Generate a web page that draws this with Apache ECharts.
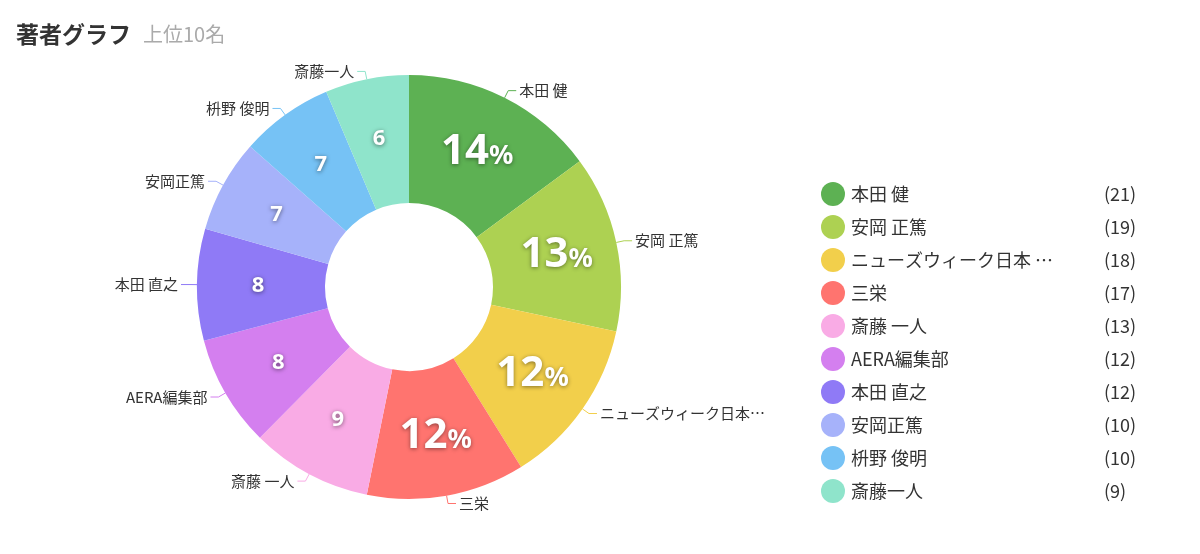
<!DOCTYPE html>
<html>
<head>
<meta charset="utf-8">
<script src="https://cdn.jsdelivr.net/npm/echarts@6/dist/echarts.min.js"></script>
<style>
  html, body { margin: 0; padding: 0; background: #fff; }
  #main { width: 1200px; height: 554px; }
</style>
</head>
<body>
<div id="main"></div>
<script>
// 著者名と件数（上位10名）
var authors = ['本田 健', '安岡 正篤', 'ニューズウィーク日本版', '三栄', '斎藤 一人', 'AERA編集部', '本田 直之', '安岡正篤', '枡野 俊明', '斎藤一人'];
var counts = [21, 19, 18, 17, 13, 12, 12, 10, 10, 9];
var colors = ['#5db153', '#add152', '#f2cf4b', '#ff746f', '#f9abe5', '#d47fef', '#8f7af6', '#a6b2fa', '#76c2f5', '#8fe4cb'];

var FONT = '"Noto Sans CJK JP", "Noto Sans", sans-serif';

var Chart = Chart || {};

Chart.pieData = function() {
	var list = [];
	for (var i = 0; i < authors.length; i++) {
		list.push({ name: authors[i], value: counts[i] });
	}
	return list;
};

Chart.countOf = function(name) {
	var i = authors.indexOf(name);
	return i < 0 ? '' : counts[i];
};

// 長い名前は10文字で切る
Chart.shortName = function(name, sep) {
	return name.length > 10 ? name.slice(0, 10) + sep + '…' : name;
};

var myChart = echarts.init(document.getElementById('main'));
var data = Chart.pieData();

var option = {
	color: colors,
	animation: false,
	title: {
		left: 11,
		top: 18,
		text: '{a|著者グラフ}{b|上位10名}',
		textStyle: {
			rich: {
				a: { fontSize: 23, fontWeight: 'bold', color: '#333', fontFamily: FONT },
				b: { fontSize: 20, fontWeight: 'normal', color: '#aaa', fontFamily: FONT, padding: [0, 0, 0, 12] }
			}
		}
	},
	legend: {
		orient: 'vertical',
		left: 816,
		top: 177,
		icon: 'circle',
		itemWidth: 24,
		itemHeight: 24,
		itemGap: 9,
		data: authors,
		formatter: function(name) {
			return '{n|' + Chart.shortName(name, ' ') + '}{v|(' + Chart.countOf(name) + ')}';
		},
		textStyle: {
			color: '#333',
			fontFamily: FONT,
			fontSize: 18,
			rich: {
				n: { width: 253, fontSize: 18, color: '#333', fontFamily: FONT, padding: [0, 0, 0, 1] },
				v: { fontSize: 18, color: '#333', fontFamily: FONT }
			}
		}
	},
	series: [{
		// 外側の名前ラベル
		name: '著者',
		type: 'pie',
		center: [409, 287],
		radius: [84, 212],
		startAngle: 90,
		avoidLabelOverlap: true,
		data: data,
		label: {
			show: true,
			position: 'outside',
			color: '#333',
			fontSize: 15,
			fontFamily: FONT,
			formatter: function(p) {
				return Chart.shortName(p.name, '');
			},
			distanceToLabelLine: 3
		},
		labelLine: {
			show: true,
			length: 8,
			length2: 8,
			smooth: false,
			lineStyle: { width: 1 }
		},
		emphasis: { scale: false }
	}, {
		// 内側のパーセント表示
		name: '割合',
		type: 'pie',
		center: [409, 287],
		radius: [84, 212],
		startAngle: 90,
		silent: true,
		data: data,
		itemStyle: { color: 'rgba(0,0,0,0)' },
		labelLine: { show: false },
		label: {
			show: true,
			position: 'inside',
			formatter: function(p) {
				var pct = Math.floor(p.percent);
				if (pct >= 10) {
					return '{big|' + pct + '}{pc|%}';
				}
				return '{sm|' + pct + '}';
			},
			rich: {
				big: {
					fontSize: 42, fontWeight: 'bold', color: '#fff', fontFamily: '"Noto Sans", sans-serif',
					textShadowColor: 'rgba(0,0,0,0.45)', textShadowBlur: 4, textShadowOffsetY: 1
				},
				pc: {
					fontSize: 27, fontWeight: 'bold', color: '#fff', fontFamily: '"Noto Sans", sans-serif',
					padding: [9, 0, 0, 0],
					textShadowColor: 'rgba(0,0,0,0.45)', textShadowBlur: 4, textShadowOffsetY: 1
				},
				sm: {
					fontSize: 22, fontWeight: 'bold', color: '#fff', fontFamily: '"Noto Sans", sans-serif',
					textShadowColor: 'rgba(0,0,0,0.5)', textShadowBlur: 4, textShadowOffsetY: 1
				}
			}
		},
		emphasis: { disabled: true }
	}]
};

myChart.setOption(option);
</script>
</body>
</html>
